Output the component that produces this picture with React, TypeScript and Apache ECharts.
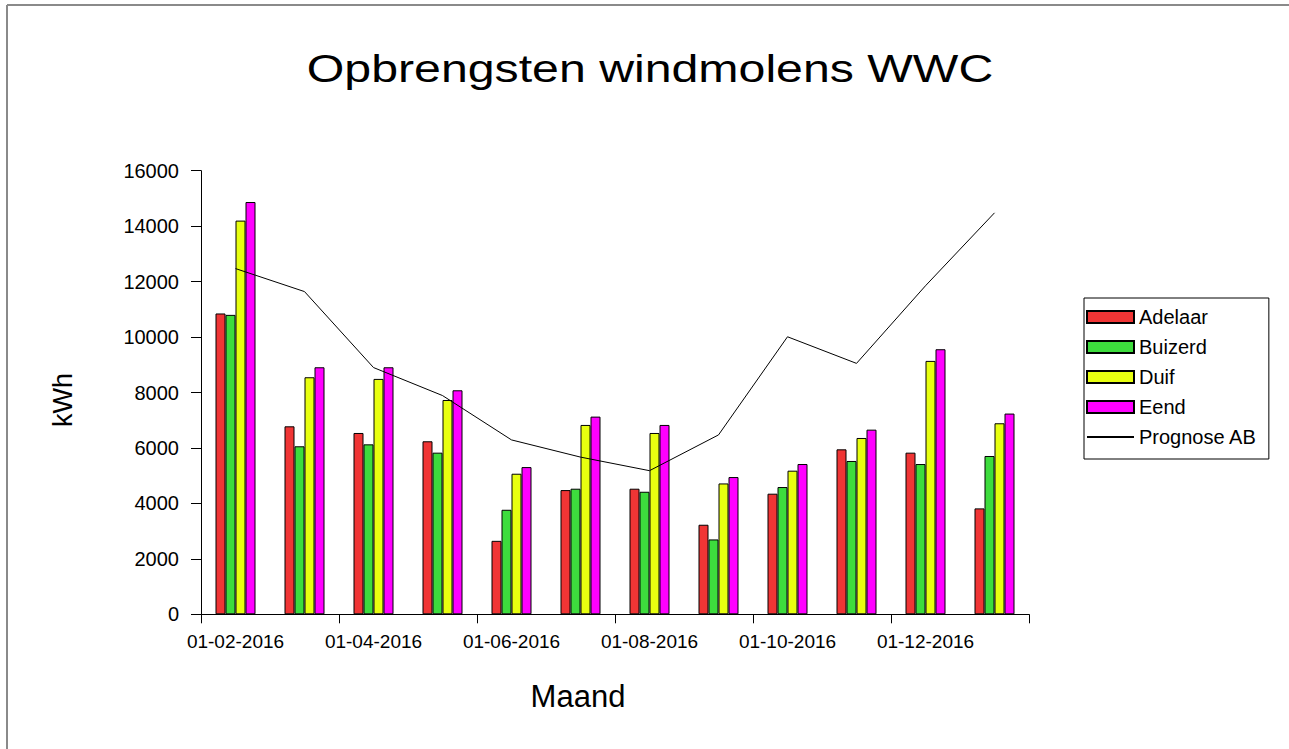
import React, { useEffect, useRef } from "react";
import * as echarts from "echarts";

const months = [
  "01-02-2016", "01-03-2016", "01-04-2016", "01-05-2016", "01-06-2016", "01-07-2016",
  "01-08-2016", "01-09-2016", "01-10-2016", "01-11-2016", "01-12-2016", "01-01-2017",
];
const adelaar = [10850, 6780, 6540, 6240, 2650, 4480, 4530, 3230, 4350, 5950, 5830, 3820];
const buizerd = [10800, 6060, 6130, 5830, 3770, 4530, 4420, 2700, 4590, 5530, 5420, 5710];
const duif = [14200, 8550, 8490, 7730, 5070, 6830, 6540, 4720, 5180, 6360, 9140, 6890];
const eend = [14870, 8910, 8910, 8080, 5310, 7130, 6830, 4950, 5420, 6660, 9560, 7240];
const prognose = [12470, 11640, 8900, 7890, 6290, 5670, 5180, 6470, 10010, 9050, 11850, 14480];

const seriesNames = ["Adelaar", "Buizerd", "Duif", "Eend"];
const seriesValues = [adelaar, buizerd, duif, eend];
const seriesColors = ["#f03535", "#3ddc3d", "#e8ff10", "#ff00ff"];

const FONT = "'Liberation Sans', Arial, sans-serif";

export default function App() {
  const ref = useRef<HTMLDivElement>(null);
  useEffect(() => {
    document.body.style.margin = "0";
    document.body.style.overflow = "hidden";
    document.documentElement.style.overflow = "hidden";
    const chart = echarts.init(ref.current!, null, { renderer: "svg" });
    const barSeries = seriesNames.map((name, k) => ({
      name,
      type: "bar",
      data: seriesValues[k],
      barWidth: 10,
      barGap: "0%",
      itemStyle: { color: seriesColors[k], borderColor: "#000", borderWidth: 1 },
    }));
    chart.setOption({
      animation: false,
      backgroundColor: "#fff",
      textStyle: { fontFamily: FONT },
      grid: { left: 201, right: 260, top: 170.7, bottom: 134.7 },
      legend: {
        orient: "vertical",
        left: 1084,
        top: 298,
        padding: [9, 12, 12, 2],
        itemGap: 10,
        itemWidth: 47,
        itemHeight: 12,
        borderColor: "#000",
        borderWidth: 1,
        textStyle: { fontSize: 20, color: "#000", fontFamily: FONT, lineHeight: 20 },
        data: [
          { name: "Adelaar", icon: "rect" },
          { name: "Buizerd", icon: "rect" },
          { name: "Duif", icon: "rect" },
          { name: "Eend", icon: "rect" },
          { name: "Prognose AB", itemStyle: { opacity: 0 } },
        ],
      },
      xAxis: {
        type: "category",
        data: months,
        boundaryGap: true,
        axisLine: { lineStyle: { color: "#000", width: 1 } },
        axisTick: { show: true, interval: 1, alignWithLabel: false, length: 9, lineStyle: { color: "#000" } },
        axisLabel: {
          interval: 1,
          margin: 18,
          fontSize: 19,
          color: "#000",
          fontFamily: FONT,
        },
      },
      yAxis: {
        type: "value",
        min: 0,
        max: 16000,
        interval: 2000,
        splitLine: { show: false },
        axisLine: { show: true, lineStyle: { color: "#000", width: 1 } },
        axisTick: { show: true, length: 10, lineStyle: { color: "#000" } },
        axisLabel: {
          margin: 22,
          fontSize: 20,
          color: "#000",
          fontFamily: FONT,
          formatter: (v: number) => String(v),
        },
      },
      series: [
        ...barSeries,
        {
          name: "Prognose AB",
          type: "line",
          data: prognose,
          symbol: "none",
          lineStyle: { color: "#000", width: 1 },
          itemStyle: { color: "#000", opacity: 0 },
        },
      ],
      graphic: [
        {
          type: "line",
          shape: { x1: 7, y1: 5, x2: 1300, y2: 5 },
          style: { stroke: "#8a8a8a", lineWidth: 2 },
          silent: true,
        },
        {
          type: "line",
          shape: { x1: 7, y1: 5, x2: 7, y2: 760 },
          style: { stroke: "#8a8a8a", lineWidth: 2 },
          silent: true,
        },
        {
          type: "text",
          x: 650,
          y: 69,
          scaleX: 1.27,
          style: {
            text: "Opbrengsten windmolens WWC",
            fontSize: 38,
            fontFamily: FONT,
            fill: "#000",
            textAlign: "center",
            textVerticalAlign: "middle",
          },
        },
        {
          type: "text",
          x: 63,
          y: 400,
          rotation: Math.PI / 2,
          style: {
            text: "kWh",
            fontSize: 27,
            fontFamily: FONT,
            fill: "#000",
            textAlign: "center",
            textVerticalAlign: "middle",
          },
        },
        {
          type: "text",
          x: 578,
          y: 696,
          style: {
            text: "Maand",
            fontSize: 31,
            fontFamily: FONT,
            fill: "#000",
            textAlign: "center",
            textVerticalAlign: "middle",
          },
        },
      ],
    });
    return () => chart.dispose();
  }, []);
  return <div ref={ref} style={{ width: 1289, height: 749 }} />;
}
